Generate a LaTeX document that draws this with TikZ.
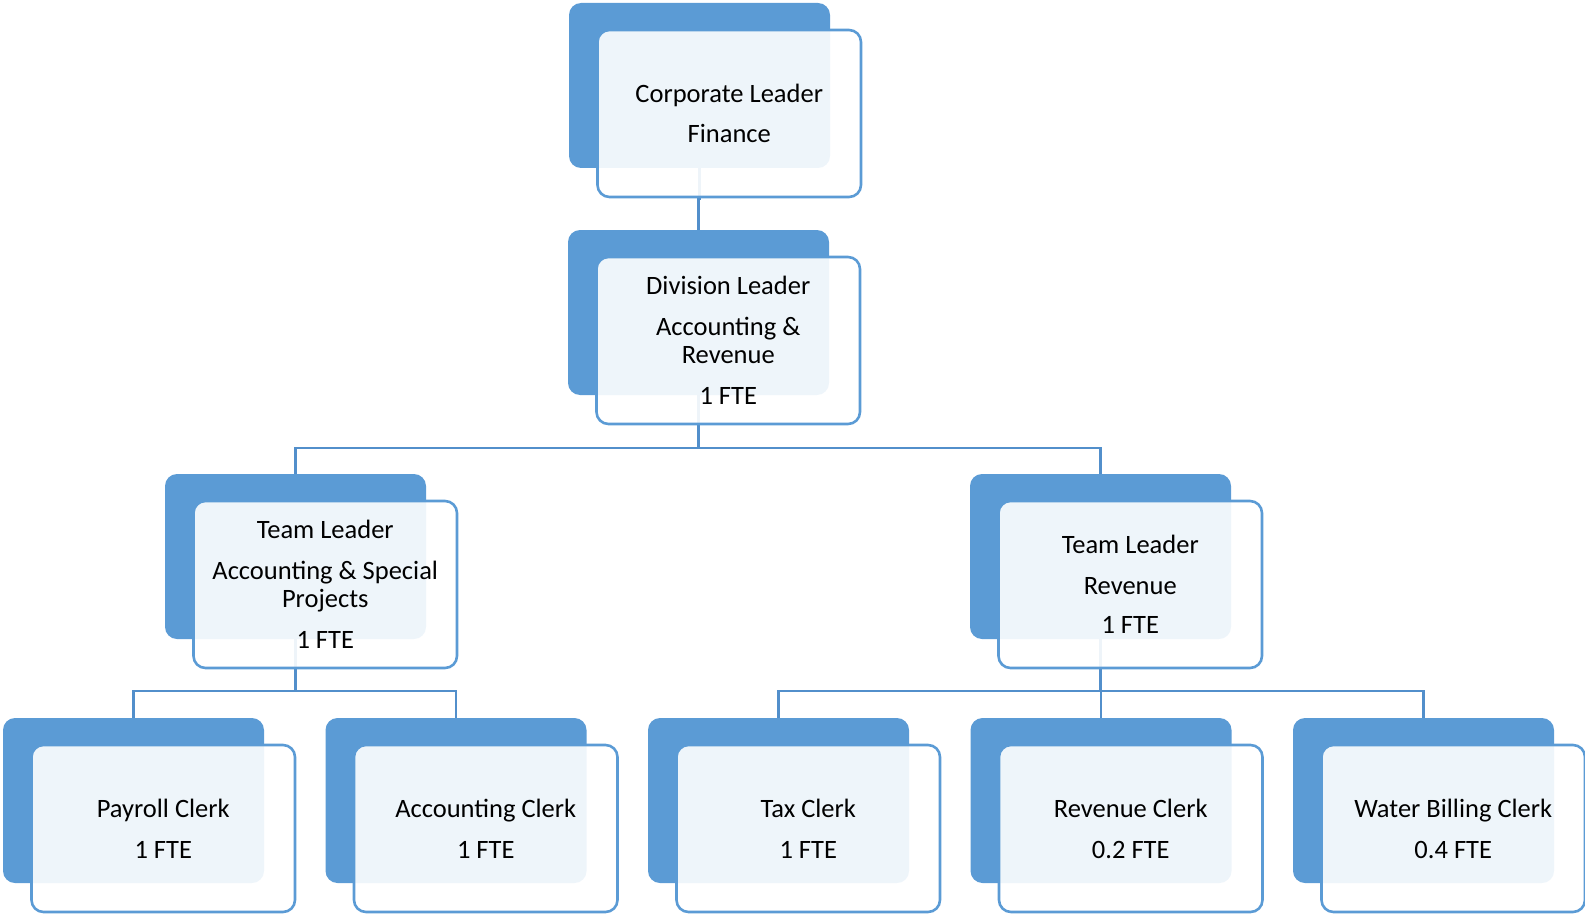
\documentclass[tikz,border=0pt]{standalone}
\usepackage{fontspec}
\setmainfont{Carlito}
\definecolor{boxblue}{HTML}{5B9BD5}
\definecolor{lineblue}{HTML}{528FCB}
\begin{document}
\begin{tikzpicture}[x=1pt,y=-1pt,
  backbox/.style={fill=boxblue, rounded corners=12pt, minimum width=261pt,
    minimum height=165pt, inner sep=0pt, outer sep=0pt, anchor=north west},
  frontbox/.style={draw=boxblue, line width=2.6pt, fill=white, fill opacity=0.9,
    text opacity=1, rounded corners=12pt, minimum width=263.5pt, minimum height=167pt,
    inner sep=0pt, outer sep=0pt, anchor=north west, align=center,
    font=\fontsize{26.5}{28.5}\selectfont},
  conn/.style={draw=lineblue, line width=2.4pt}]
\useasboundingbox (0,0) rectangle (1585,915);

% shadow plates
\node[backbox] (corpB)  at (569,3) {};
\node[backbox] (divB)   at (568,230) {};
\node[backbox] (tlaB)   at (165,474) {};
\node[backbox] (tlrB)   at (970,474) {};
\node[backbox] (payB)   at (3,718) {};
\node[backbox] (accB)   at (325.5,718) {};
\node[backbox] (taxB)   at (648,718) {};
\node[backbox] (revB)   at (970.5,718) {};
\node[backbox] (watB)   at (1293,718) {};

% reporting lines
\draw[conn] (corpB.south) -- ++(0,31) -| (divB.north);
\draw[conn] (divB.south) -- ++(0,53) -| (tlaB.north);
\draw[conn] (divB.south) -- ++(0,53) -| (tlrB.north);
\draw[conn] (tlaB.south) -- ++(0,52) -| (payB.north);
\draw[conn] (tlaB.south) -- ++(0,52) -| (accB.north);
\draw[conn] (tlrB.south) -- ++(0,52) -| (taxB.north);
\draw[conn] (tlrB.south) -- ++(0,52) -| (revB.north);
\draw[conn] (tlrB.south) -- ++(0,52) -| (watB.north);

% labelled cards
\node[frontbox] (corp) at (597.5,30) {Corporate Leader\\[11pt]Finance};
\node[frontbox] (div)  at (596.5,257) {Division Leader\\[12.5pt]Accounting \&\\Revenue\\[12.5pt]1 FTE};
\node[frontbox] (tla)  at (193.5,501) {Team Leader\\[12.5pt]Accounting \& Special\\Projects\\[12.5pt]1 FTE};
\node[frontbox] (tlr)  at (998.5,501) {Team Leader\\[12pt]Revenue\\[11pt]1 FTE};
\node[frontbox] (pay)  at (31.5,745) {Payroll Clerk\\[12.5pt]1 FTE};
\node[frontbox] (acc)  at (354,745) {Accounting Clerk\\[12.5pt]1 FTE};
\node[frontbox] (tax)  at (676.5,745) {Tax Clerk\\[12.5pt]1 FTE};
\node[frontbox] (rev)  at (999,745) {Revenue Clerk\\[12.5pt]0.2 FTE};
\node[frontbox] (wat)  at (1321.5,745) {Water Billing Clerk\\[12.5pt]0.4 FTE};
\end{tikzpicture}
\end{document}
